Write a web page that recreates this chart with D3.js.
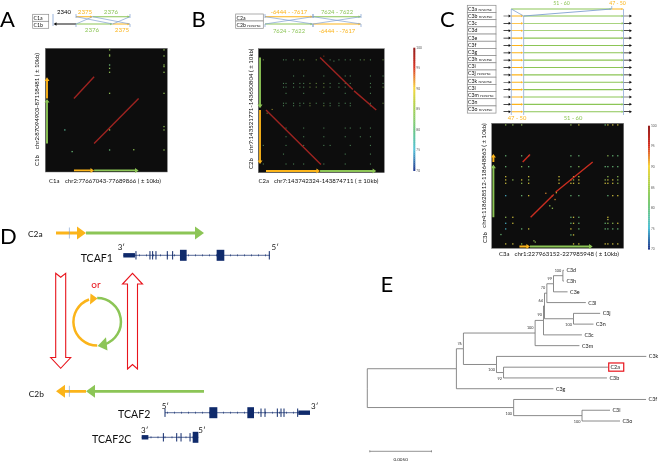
<!DOCTYPE html>
<html><head><meta charset="utf-8">
<style>html,body{margin:0;padding:0;background:#fff}svg{display:block;filter:blur(.4px)}text{font-family:Lato,"Open Sans",sans-serif}</style>
<script src="https://cdn.jsdelivr.net/npm/d3@7/dist/d3.min.js"></script></head><body>
<svg id="c" width="660" height="463"></svg>
<script>
/* ---------- data ---------- */
const panelLetters = ["A","B","C","D","E"];
const identityTicks = [100,95,90,85,80,75,70];
const identityColors = ["#902020","#d83020","#f8d840","#a4d050","#70c880","#50c0d8","#203a90"];
const identityBins = {1:80,2:84,3:89,4:75,5:94};

// dot plots: windows in percent of the plotted range (x0,x1,y0,y1,identity)
const dotA_diagonals = [[23.5,40,40.5,23,99],[40,76.5,77,40.5,99]];
const dotA_cols = [52.7,97.3];
const dotA_rows = [1.3,5.4,6.2,13.5,14.8,16.2,19.4,36.4,63.3,66,82.2];
const dotA_grid = ["22","20","22","12","02","20","22","22","02","22","12"];
const dotA_extra = [[72.5,82,84],[22,83.5,80],[16,66,78]];

const dotB_diagonals = [[49,75,7,33,99],[76,93.6,34,49.5,99],[6.1,49.7,49.5,93.3,99]];
const dotB_cols = [4,20,22,28,33,36,41,46,52,57,64,69,73,81,84,89,99];
const dotB_rows = [9,22,28,31,36,44,46,64,71,78,85,93];
const dotB_grid = [
"21112202011111212",
"00010100100110011",
"01111122211110011",
"01111122211110012",
"00100100100100010",
"01111121111110012",
"01011020211010010",
"00100100100111010",
"00100100100101010",
"10100100110010010",
"01000000000100010",
"10110100100100010"];
const dotB_extra = [[11,49,89],[7,52,89],[52,6,94],[51,9,94],[60,10,80]];

const dotC_diagonals = [[23.5,29,31,25,96],[29.5,47,75.2,57,96],[48.5,76.5,55,31,96]];
const dotC_cols = [10.6,16,22.7,28,51,60,62,66,86,88,91.7,95.5];
const dotC_rows = [1.3,26,34.7,42.7,45.3,48,57.9,75.2,80,84.5,89.3,96.5];
const dotC_grid = [
"222002031333",
"101101010211",
"102101021111",
"300330330202",
"323233232332",
"302333333332",
"401301010133",
"230001310300",
"430001311223",
"401303011111",
"000001300000",
"332000333333"];
const dotC_extra = [[41,56,92],[46,58,92],[48,61,92],[49,55.5,89],[44,66,84],[46,68,84],[32,94,84],[33,95,84],[7,89,80],[88,77,88]];

// chain arrows along the plot axes, same percent windows
const axisA_x = [[23.5,40,"o"],[40,76.5,"g"]];
const axisA_y = [[77,41,"g"],[40.5,23.5,"o"]];
const axisB_x = [[6.1,49,"o"],[49,93.6,"g"]];
const axisB_y = [[7,48,"g"],[49.5,93,"o"]];
const axisC_x = [[21,29,"o"],[29,76.5,"g"]];
const axisC_y = [[75.2,33,"g"],[31,24.5,"o"]];

// alignment schematics: percent along the track
const schemeA_top = [[0,31,"o"],[31,100,"g"]];
const schemeA_bot = [[0,68,"g"],[68,100,"o"]];
const schemeB_top = [[0,50,"o"],[50,100,"g"]];
const schemeB_bot = [[0,50,"g"],[50,100,"o"]];
const schemeC_names = ["C3a reverse","C3b reverse","C3c","C3d","C3e","C3f","C3g","C3h reverse","C3i","C3j reverse","C3k reverse","C3l","C3m reverse","C3n","C3o reverse"];
const schemeC_top = [[0,89.5,"g"],[89.5,100,"o"]];
const schemeC_row = [[0,10.5,"o"],[11,100,"g"]];

// D: gene models, in kb-like units from the gene start
const geneTCAF1 = {utr:[0,35],bars:[38,80,88,98,132,148,438],boxes:[[170,190],[280,303]],len:440};
const geneTCAF2 = {utr:[400,435],bars:[0,288,300,337,348,357,398],boxes:[[133,157],[247,267]],len:435};
const geneTCAF2C = {utr:[0,20],bars:[65,105,118,145],boxes:[[153,170]],len:170};
const chainD = [[0,30,"o"],[30,148,"g"]];

// E: neighbour-joining tree; len is substitutions per site
const treeNodes = [
{id:"root",parent:null,len:0},
{id:"A",parent:"root",len:.00722,support:""},
{id:"B",parent:"A",len:.00057,support:"76"},
{id:"C",parent:"B",len:.00581,support:"100"},
{id:"E",parent:"C",len:.00068,support:"90"},
{id:"F",parent:"E",len:.00008,support:"64"},
{id:"I",parent:"F",len:.00019,support:"70"},
{id:"J",parent:"I",len:.00054,support:"99"},
{id:"K",parent:"J",len:.00076,support:"100"},
{id:"C3d",parent:"K",len:.00008},
{id:"C3h",parent:"K",len:.00008},
{id:"C3e",parent:"J",len:.00114},
{id:"C3l",parent:"I",len:.00316},
{id:"H",parent:"F",len:.00235,support:"100"},
{id:"C3j",parent:"H",len:.00216},
{id:"C3n",parent:"H",len:.00162},
{id:"C3c",parent:"E",len:.00311},
{id:"C3m",parent:"C",len:.00359},
{id:"D",parent:"B",len:.00268,support:"100"},
{id:"C3k",parent:"D",len:.01214},
{id:"L",parent:"D",len:.00057,support:"92"},
{id:"C2a",parent:"L",len:.00846},
{id:"C3b",parent:"L",len:.00838},
{id:"C3g",parent:"A",len:.00786},
{id:"M",parent:"root",len:.01186,support:"100"},
{id:"C3f",parent:"M",len:.01073},
{id:"N",parent:"M",len:.00554,support:"100"},
{id:"C3i",parent:"N",len:.00227},
{id:"C3o",parent:"N",len:.00308}];
const supportBelow = ["H","D","L","N","M"];

/* ---------- helpers ---------- */
const ORANGE="#fbb41a", GREEN="#8cc556", BLUE="#7f9fd0", NAVY="#0f2a6b", RED="#e8141c";
const hue = k => k==="o"?ORANGE:GREEN;
const svg = d3.select("#c");
const identity = d3.scaleLinear().domain(identityTicks).range(identityColors);

function arrow(g,x0,y0,x1,y1,color,w,hl,hw){
  const a=Math.atan2(y1-y0,x1-x0),L=Math.hypot(x1-x0,y1-y0),c=Math.cos(a),s=Math.sin(a);
  const P=(u,v)=>[x0+u*c-v*s,y0+u*s+v*c];
  g.append("path").attr("fill",color).attr("d",d3.line()([P(0,-w/2),P(L-hl,-w/2),P(L-hl,-hw/2),P(L,0),P(L-hl,hw/2),P(L-hl,w/2),P(0,w/2)])+"Z");
}
function text(x,y,s,o={}){
  return svg.append("text").attr("x",x).attr("y",y).text(s)
   .attr("font-size",o.size||6).attr("fill",o.fill||"#111")
   .attr("text-anchor",o.anchor||"start")
   .attr("font-family",o.family||null)
   .attr("transform",o.rotate?`rotate(-90 ${x} ${y})`:null);
}
function dotPlot(o){
  const x=d3.scaleLinear([0,100],o.xr), y=d3.scaleLinear([0,100],o.yr);
  svg.append("rect").attr("x",o.xr[0]).attr("y",o.yr[0]).attr("width",o.xr[1]-o.xr[0]).attr("height",o.yr[1]-o.yr[0]).attr("fill","#0d0d0d").attr("stroke","#777").attr("stroke-width",.5);
  const pts=[];
  o.grid.forEach((r,i)=>[...r].forEach((ch,j)=>{if(ch!=="0")pts.push([o.cols[j],o.rows[i],identityBins[ch]]);}));
  o.extra.forEach(e=>pts.push(e));
  const ds=o.dot;
  svg.append("g").attr("opacity",o.dim).selectAll("rect").data(pts).join("rect")
    .attr("x",d=>x(d[0])-ds/2).attr("y",d=>y(d[1])-ds/2).attr("width",ds).attr("height",ds)
    .attr("fill",d=>identity(d[2]));
  svg.append("g").selectAll("line").data(o.diagonals).join("line")
    .attr("x1",d=>x(d[0])).attr("x2",d=>x(d[1])).attr("y1",d=>y(d[2])).attr("y2",d=>y(d[3]))
    .attr("stroke",d=>identity(d[4])).attr("stroke-width",1.4);
  const g=svg.append("g");
  o.axisX.forEach(d=>arrow(g,x(d[0]),o.ax,x(d[1]),o.ax,hue(d[2]),1.9,3.6,5));
  o.axisY.forEach(d=>arrow(g,o.ay,y(d[0]),o.ay,y(d[1]),hue(d[2]),1.9,3.6,5));
}
function colorBar(x,y0,y1){
  const y=d3.scaleLinear([70,100],[y1,y0]);
  const steps=d3.range(70,100,.5);
  svg.append("g").selectAll("rect").data(steps).join("rect")
    .attr("x",x).attr("width",2).attr("y",d=>y(d+.5)).attr("height",d=>y(d)-y(d+.5)+.3).attr("fill",d=>identity(d));
  identityTicks.forEach(t=>text(x+3,y(t)+1,t,{size:3.2,fill:"#555"}));
}
function track(g,scale,segs,y,lw,hl,hw){
  segs.forEach(d=>arrow(g,scale(d[0]),y,scale(d[1]),y,hue(d[2]),lw,hl,hw));
}
function box(x,y,w,h){
  svg.append("rect").attr("x",x).attr("y",y).attr("width",w).attr("height",h).attr("fill","#fff").attr("stroke","#8a8a8a").attr("stroke-width",.7);
}
function link(x1,y1,x2,y2,w){
  svg.append("line").attr("x1",x1).attr("y1",y1).attr("x2",x2).attr("y2",y2).attr("stroke",BLUE).attr("stroke-width",w||.7);
}

/* ---------- letters ---------- */
[[0,26.5],[191.5,26.5],[440,26.5],[0,243.5],[380.5,291.5]].forEach((p,i)=>
  text(p[0],p[1],panelLetters[i],{size:22,fill:"#000",family:"Open Sans"}));

/* ---------- A ---------- */
dotPlot({xr:[45.3,167.3],yr:[48.3,172],dot:1.3,dim:.9,diagonals:dotA_diagonals,cols:dotA_cols,rows:dotA_rows,grid:dotA_grid,extra:dotA_extra,axisX:axisA_x,axisY:axisA_y,ax:170.4,ay:47});
box(32.7,14.3,16,7); box(32.7,21.3,16,7);
text(33.5,20,"C1a",{size:5.2}); text(33.5,27,"C1b",{size:5.2});
text(57,14,"2340",{size:6,fill:"#000"});
{
  const xa=d3.scaleLinear([0,100],[76,130]), g=svg.append("g");
  link(53,14,53,26,.8);
  link(xa(0),24,xa(31),16.7); link(xa(31),16.7,xa(100),24);link(xa(0),16.7,xa(68),24);link(xa(68),24,xa(100),16.7);
  [[76,14,76,18],[130,14,130,18],[76,24,76,27],[130,24,130,27]].forEach(d=>link(...d));
  track(g,xa,schemeA_top,16.7,1,2.5,2.6);
  track(g,xa,schemeA_bot,24,1,2.5,2.6);
  arrow(g,76,24,53.5,24,"#111",1.1,3,3.4);
  text(85,14,"2375",{size:6.2,fill:ORANGE,anchor:"middle"});
  text(111,14,"2376",{size:6.2,fill:GREEN,anchor:"middle"});
  text(92,32.4,"2376",{size:6.2,fill:GREEN,anchor:"middle"});
  text(122,32.4,"2375",{size:6.2,fill:ORANGE,anchor:"middle"});
}
text(49,182.6,"C1a",{size:6});
text(65,182.6,"chr2:77667043-77689866 ( ± 10kb)",{size:6});
text(38.6,166,"C1b",{size:6,rotate:1});
text(38.6,149,"chr2:87094903-87118481 ( ± 10kb)",{size:6,rotate:1});

/* ---------- B ---------- */
dotPlot({xr:[258.3,384.3],yr:[48.7,172.7],dot:1.1,dim:.6,diagonals:dotB_diagonals,cols:dotB_cols,rows:dotB_rows,grid:dotB_grid,extra:dotB_extra,axisX:axisB_x,axisY:axisB_y,ax:171,ay:260});
colorBar(413.3,47.7,170.7);
box(235.7,14,27.6,7); box(235.7,21,27.6,7.3);
text(236.5,20,"C2a",{size:5.2});
svg.append("text").attr("x",236.5).attr("y",27).attr("font-size",5.2).attr("fill","#111").text("C2b ").append("tspan").attr("font-size",4.2).text("reverse");
{
  const xb=d3.scaleLinear([0,100],[265,361]), g=svg.append("g");
  [[0,50],[50,100]].forEach(([p,q])=>{
    link(xb(p),24,xb(q),16.7); link(xb(p),16.7,xb(q),24);
    [[p,14,p,18],[q,14,q,18],[p,24,p,27],[q,24,q,27]].forEach(d=>link(xb(d[0]),d[1],xb(d[2]),d[3]));
  });
  track(g,xb,schemeB_top,16.7,1,2.5,2.6);
  track(g,xb,schemeB_bot,24,1,2.5,2.6);
  text(289,14,"-6444 - -7617",{size:5.8,fill:ORANGE,anchor:"middle"});
  text(337,14,"7624 - 7622",{size:5.8,fill:GREEN,anchor:"middle"});
  text(289,32.7,"7624 - 7622",{size:5.8,fill:GREEN,anchor:"middle"});
  text(337,32.7,"-6444 - -7617",{size:5.8,fill:ORANGE,anchor:"middle"});
}
text(258.5,183,"C2a",{size:6});
text(274,183,"chr7:143742324-143874711 ( ± 10kb)",{size:6.1});
text(253,169,"C2b",{size:6,rotate:1});
text(253,153,"chr7:143521771-143650804 ( ± 10kb)",{size:6.1,rotate:1});

/* ---------- C ---------- */
dotPlot({xr:[491.7,623.7],yr:[123.3,248.3],dot:1.3,dim:.85,diagonals:dotC_diagonals,cols:dotC_cols,rows:dotC_rows,grid:dotC_grid,extra:dotC_extra,axisX:axisC_x,axisY:axisC_y,ax:246.5,ay:493.4});
colorBar(648,125.7,249.3);
{
  const rowY=d3.scaleBand().domain(schemeC_names).range([5.3,113.1]);
  const xc=d3.scaleLinear([0,100],[511.3,623.5]), g=svg.append("g");
  schemeC_names.forEach(n=>{
    box(467.3,rowY(n),28.7,rowY.bandwidth());
    const [a,b]=n.split(" ");
    const t=svg.append("text").attr("x",468).attr("y",rowY(n)+5.5).attr("font-size",5.2).attr("fill","#111").text(a);
    if(b)t.append("tspan").attr("font-size",4.2).attr("dx",1.5).text(b);
  });
  const trackY=d3.scaleLinear([1,14],[16,111.7]);
  link(xc(0),9,xc(0),115); link(xc(11),16,xc(11),115); link(xc(100),9,xc(100),115);
  link(xc(0),9,xc(11),16,.8); link(xc(89.5),9,xc(11),16,.9);
  link(xc(89.5),6,xc(89.5),9);
  track(g,xc,schemeC_top,9,.9,2,2.2);
  d3.range(1,15).forEach(i=>{
    const y=trackY(i);
    arrow(g,503.5,y,511,y,"#111",.7,2.4,3);
    arrow(g,623.5,y,632,y,"#111",.7,2.6,3);
    track(g,xc,schemeC_row,y,i<4?.8:1.1,1.8,2.6);
  });
  text(561.5,5.2,"51 - 60",{size:5.2,fill:GREEN,anchor:"middle"});
  text(617.5,5.2,"47 - 50",{size:5.2,fill:ORANGE,anchor:"middle"});
  text(517,120,"47 - 50",{size:5.8,fill:ORANGE,anchor:"middle"});
  text(573,120,"51 - 60",{size:5.8,fill:GREEN,anchor:"middle"});
}
text(499,255.6,"C3a",{size:6});
text(514.5,255.6,"chr1:227963152-227985948 ( ± 10kb)",{size:6.1});
text(486.5,243,"C3b",{size:6,rotate:1});
text(486.5,227.7,"chr4:118628512-118648863 ( ± 10kb)",{size:6.1,rotate:1});

/* ---------- D ---------- */
{
  const xd=d3.scaleLinear([0,148],[56,204]), g=svg.append("g");
  const chain=(y,rev)=>{
    chainD.forEach(d=>{
      const a=xd(rev?d[1]:d[0]), b=xd(rev?d[0]:d[1]);
      arrow(g,a,y,b,y,hue(d[2]),2.8,9,13);
    });
    svg.append("rect").attr("x",xd(13.3)-.4).attr("y",y-5.5).attr("width",.9).attr("height",11).attr("fill",BLUE).attr("opacity",.7);
  };
  chain(233,false); chain(391.3,true);
  text(28,236.6,"C2a",{size:8.4}); text(28.7,397.3,"C2b",{size:8.4});

  const gene=(m,x0,y)=>{
    const sc=d3.scaleLinear([0,3],[x0,x0+1]);
    const G=svg.append("g");
    G.append("line").attr("x1",sc(0)).attr("x2",sc(m.len)).attr("y1",y).attr("y2",y).attr("stroke",NAVY).attr("stroke-width",.7);
    G.selectAll(".t").data(d3.range(6,m.len,21)).join("rect").attr("x",d=>sc(d)).attr("y",y-1).attr("width",.6).attr("height",2).attr("fill",NAVY);
    G.selectAll(".b").data(m.bars).join("rect").attr("x",d=>sc(d)-.5).attr("y",y-4.2).attr("width",1).attr("height",8.4).attr("fill",NAVY);
    G.selectAll(".x").data(m.boxes).join("rect").attr("x",d=>sc(d[0])).attr("y",y-5.5).attr("width",d=>sc(d[1])-sc(d[0])).attr("height",11).attr("fill",NAVY);
    G.append("rect").attr("x",sc(m.utr[0])).attr("y",y-2.2).attr("width",sc(m.utr[1])-sc(m.utr[0])).attr("height",4.4).attr("fill",NAVY);
  };
  gene(geneTCAF1,123.3,255.3);
  gene(geneTCAF2,165,412.7);
  gene(geneTCAF2C,141.7,437.3);

  text(80.7,262.3,"TCAF1",{size:10.6,fill:"#111"});
  text(118,417.6,"TCAF2",{size:10.6,fill:"#111"});
  text(92,443,"TCAF2C",{size:10.6,fill:"#111"});
  [[117.7,"3′",250],[271.5,"5′",250],[161.7,"5′",409],[311,"3′",409],[141,"3′",433],[198.3,"5′",433]].forEach(d=>text(d[0],d[2],d[1],{size:8,fill:"#222"}));

  // red hollow arrows
  const hollow=(cx,yTail,yBase,yTip,notch)=>{
    const pts=[[cx-5,yTail],[cx,yTail+notch],[cx+5,yTail],[cx+5,yBase],[cx+10,yBase],[cx,yTip],[cx-10,yBase],[cx-5,yBase]];
    svg.append("path").attr("d",d3.line()(pts)+"Z").attr("fill","#fff").attr("stroke",RED).attr("stroke-width",1.1);
  };
  hollow(60.7,273.3,357.5,368.3,4);
  hollow(132.5,369,284,273.3,-4.5);
  text(96,287.5,"or",{size:10,fill:RED,anchor:"middle"});

  // cycle
  const arcG=svg.append("g").attr("transform","translate(97.2,321.8)");
  const arcGen=d3.arc().innerRadius(22.5).outerRadius(25);
  const rad=d3.scaleLinear([0,360],[0,2*Math.PI]);
  arcG.append("path").attr("d",arcGen({startAngle:rad(0),endAngle:rad(162)})).attr("fill",GREEN);
  arcG.append("path").attr("d",arcGen({startAngle:rad(180),endAngle:rad(340)})).attr("fill",ORANGE);
  svg.append("path").attr("fill",GREEN).attr("d",d3.line()([[97.6,346],[106,337.3],[107.5,350.5]])+"Z");
  svg.append("path").attr("fill",ORANGE).attr("d",d3.line()([[97.5,298.5],[90.5,293.5],[90,304.5]])+"Z");
}

/* ---------- E ---------- */
{
  const root=d3.stratify().id(d=>d.id).parentId(d=>d.parent)(treeNodes);
  const tips=root.leaves().map(d=>d.id);
  const xe=d3.scaleLinear([0,.005],[367.3,429]);
  const ye=d3.scalePoint().domain(tips).range([270.3,421]);
  root.eachBefore(n=>{n.dist=(n.parent?n.parent.dist:0)+n.data.len;});
  root.eachAfter(n=>{n.yy=n.children?(n.children[0].yy+n.children[n.children.length-1].yy)/2:ye(n.id);});
  const G=svg.append("g").attr("stroke","#6d6d6d").attr("stroke-width",.8).attr("fill","none");
  root.links().forEach(({source:s,target:t})=>{
    G.append("path").attr("d",d3.line()([[xe(s.dist),s.yy],[xe(s.dist),t.yy],[xe(t.dist),t.yy]]));
  });
  root.leaves().forEach(n=>{
    text(xe(n.dist)+2.5,n.yy+2,n.id,{size:5.4,family:"Liberation Sans",fill:"#222"});
  });
  root.descendants().filter(n=>n.data.support).forEach(n=>{
    const below=supportBelow.includes(n.id);
    text(xe(n.dist)-1.6,n.yy+(below?7:-4),n.data.support,{size:3.8,anchor:"end",family:"Liberation Sans",fill:"#333"});
  });
  const c=root.leaves().find(n=>n.id==="C2a");
  svg.append("rect").attr("x",xe(c.dist)+.8).attr("y",c.yy-4.2).attr("width",15).attr("height",8.2).attr("fill","none").attr("stroke",RED).attr("stroke-width",1.2);
  // scale bar
  const by=451.3;
  svg.append("path").attr("stroke","#666").attr("stroke-width",.7).attr("fill","none")
    .attr("d",`M${xe(.0002)},${by}H${xe(.0052)}M${xe(.0002)},${by-1}V${by+1}M${xe(.0052)},${by-1}V${by+1}`);
  text(xe(.0027),461,"0.0050",{size:4.6,anchor:"middle",family:"Liberation Sans",fill:"#222"});
}
</script></body></html>
